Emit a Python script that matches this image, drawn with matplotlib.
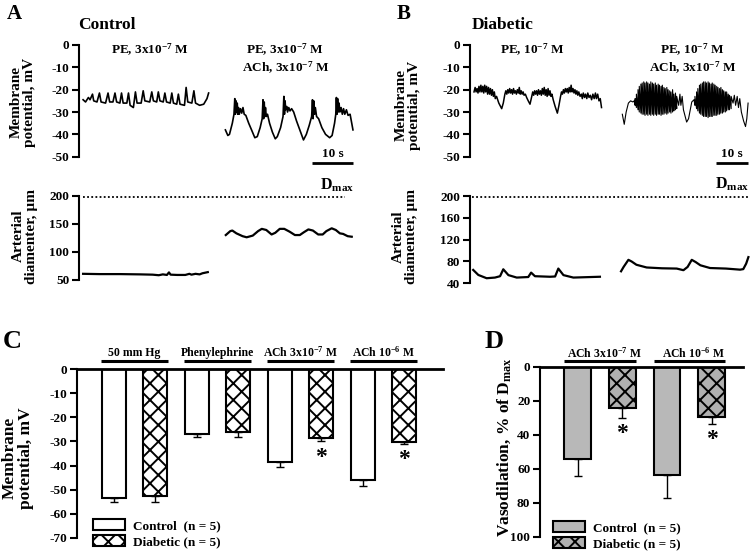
import matplotlib.pyplot as plt

plt.rcParams['font.family'] = ['Liberation Serif', 'DejaVu Serif']
plt.rcParams['font.weight'] = 'bold'
plt.rcParams['axes.labelweight'] = 'bold'
plt.rcParams['mathtext.fontset'] = 'custom'
plt.rcParams['mathtext.rm'] = 'Liberation Serif:bold'
plt.rcParams['mathtext.it'] = 'Liberation Serif:bold:italic'
plt.rcParams['mathtext.bf'] = 'Liberation Serif:bold'
plt.rcParams['mathtext.default'] = 'rm'
plt.rcParams['hatch.linewidth'] = 1.4
plt.rcParams['axes.unicode_minus'] = False

# ── A: Control traces (time in s) ─────────────────────────────────────
a_pe_t = [1.0, 1.6, 2.3, 2.7, 3.3, 3.6, 4.4, 5.0, 5.4, 6.5, 7.1, 7.5, 8.3, 8.8, 9.2,
          10.0, 10.4, 10.8, 11.7, 12.1, 12.5, 13.3, 13.8, 14.2, 15.2, 15.7, 16.1,
          17.3, 17.8, 18.2, 19.0, 19.4, 19.8, 20.6, 21.0, 21.4, 22.3, 22.7, 23.1,
          23.9, 24.3, 24.7, 25.8, 26.2, 26.6, 27.6, 28.1, 28.5, 29.5, 30.5, 31.3, 31.7]
a_pe_mv = [-24.5, -25.5, -23.5, -24.5, -22, -25, -25.5, -21.5, -25.5, -26, -21.5, -25.5,
           -25.5, -21.5, -25.5, -26, -21.5, -26, -26, -21.5, -27, -28, -21, -26, -26,
           -20.5, -25, -25.5, -21, -25, -25.5, -21, -25, -25.5, -21.5, -25.5, -26,
           -21.5, -26, -26.5, -22, -26.5, -27, -19, -25.5, -26, -20.5, -26, -27, -26.5,
           -24, -21.5]

a_ach_t = [35.8, 36.4, 36.8, 37.5, 37.9, 38.1, 38.25, 38.4, 38.55, 38.7, 38.85, 39.0, 39.2,
           39.5, 39.8, 40.1, 40.4, 40.8, 41.5, 42.2, 43.0, 43.6, 44.3, 44.8, 45.0, 45.15,
           45.3, 45.45, 45.6, 45.8, 46.1, 46.6, 47.3, 48.0, 48.5, 49.3, 49.9, 50.1, 50.25,
           50.4, 50.55, 50.8, 51.0, 51.3, 51.6, 52.0, 52.5, 53.2, 54.0, 54.9, 55.6, 56.3,
           56.9, 57.1, 57.25, 57.4, 57.6, 57.8, 58.1, 58.6, 59.4, 60.3, 61.3, 61.9, 62.5,
           62.8, 62.95, 63.1, 63.25, 63.4, 63.6, 63.8, 64.1, 64.4, 64.7, 65.0, 65.4, 65.8,
           66.3, 66.7, 67.0]
a_ach_mv = [-38, -40.5, -40, -35, -31, -24, -31, -25, -30, -26, -31, -28, -31, -28.5, -30.5,
            -28, -31, -31.5, -35, -38, -41.5, -41, -37, -33, -24.5, -33, -25.5, -32, -28,
            -32, -31, -35, -39, -42, -41, -37, -32, -23, -31, -25, -29, -27.5, -30, -28,
            -29.5, -28.5, -30, -34, -38, -42.5, -40, -36, -32, -24.5, -33, -25, -31, -28,
            -32, -33, -37, -40, -41.5, -40.5, -35, -31, -23.5, -31, -24, -30, -26, -30,
            -28, -31, -28.5, -31, -29, -31.5, -31, -35, -38]

a_pe_dt = [1.0, 5.0, 10.0, 15.0, 18.0, 19.5, 20.5, 21.5, 22.0, 22.4, 24.0, 26.0, 27.0,
           27.5, 28.5, 29.5, 30.2, 31.5]
a_pe_um = [61, 60.5, 60.5, 60, 59.5, 58.5, 60, 59, 63.5, 59.5, 59, 59, 61, 59.5, 61, 60,
           62, 64]
a_ach_dt = [35.9, 37.0, 37.5, 38.5, 40.0, 41.0, 42.5, 43.8, 44.7, 45.8, 47.1, 48.0, 49.1,
            50.2, 51.5, 52.8, 54.0, 55.0, 56.1, 57.2, 58.5, 59.6, 60.5, 61.8, 62.8, 63.8,
            64.6, 65.7, 66.7]
a_ach_um = [130, 137, 138, 133, 128, 126, 129, 137, 141, 139, 131, 134, 141, 141, 136, 130,
            130, 135, 140, 138, 131, 131, 137, 142, 139, 133, 132, 128, 127]

# ── B: Diabetic traces ────────────────────────────────────────────────
b_pe_t = [1.25, 1.6, 1.9, 2.2, 2.5, 2.8, 3.1, 3.4, 3.7, 4.0, 4.3, 4.6, 4.9, 5.2, 5.5, 5.8,
          6.1, 6.4, 6.7, 7.0, 7.3, 7.6, 7.9, 8.3, 9.0, 9.9, 10.4, 10.9, 11.2, 11.5, 11.8,
          12.1, 12.4, 12.7, 13.0, 13.3, 13.6, 13.9, 14.2, 14.5, 14.8, 15.1, 15.4, 15.7,
          16.0, 16.3, 16.6, 16.9, 17.3, 17.7, 18.2, 18.75, 19.3, 19.6, 19.9, 20.2, 20.5,
          20.8, 21.1, 21.4, 21.7, 22.0, 22.3, 22.6, 22.9, 23.2, 23.5, 23.8, 24.1, 24.4,
          24.7, 25.0, 25.3, 25.6, 26.0, 26.6, 27.3, 27.8, 28.3, 28.6, 28.9, 29.2, 29.5,
          29.8, 30.1, 30.4, 30.7, 31.0, 31.3, 31.6, 31.9, 32.2, 32.5, 32.8, 33.1, 33.4,
          33.7, 34.0, 34.4, 34.8, 35.1, 35.4, 35.8, 36.1, 36.5, 36.8, 37.2, 37.6, 38.0,
          38.4, 38.8, 39.2, 39.5, 39.9, 40.3, 40.7, 41.1]
b_pe_mv = [-21, -19, -21, -19.5, -21.5, -18.5, -21, -18, -21, -18.5, -21.5, -18, -21, -18.5,
           -22, -19, -22, -19.5, -22.5, -20, -23, -21, -24, -23, -26, -28.5, -26, -22,
           -20.5, -22, -20, -21.5, -19.5, -21.5, -20, -22, -19.5, -21.5, -20.5, -22, -20,
           -21.5, -19, -22, -20.5, -22, -21, -22.5, -22, -23.5, -25, -26.5, -23, -21,
           -22.5, -20.5, -22, -20.5, -22.5, -20, -22, -20.5, -22.5, -19.5, -22, -19, -22.5,
           -20, -23, -19.5, -22.5, -20.5, -23, -22, -24.5, -27.5, -30.5, -27, -23, -21,
           -22, -20, -21.5, -19.5, -21, -19.5, -21.5, -19, -21, -18, -21, -19.5, -21.5,
           -20, -22, -20.5, -22.5, -21, -23, -22, -24, -21.5, -23.5, -22, -24, -21.5,
           -23.5, -22.5, -24.5, -22, -24, -21.5, -24, -22, -25, -24, -28]

# ACh: slow segments plus two bursts (spike time, peak, trough)
b_ach_start_t = [47.6, 48.2, 48.8, 49.5, 50.2, 50.9, 51.3]
b_ach_start_mv = [-31, -35.5, -30, -26, -25, -25.5, -25]
b_burst1_t = [51.6, 52.0, 52.5, 52.9, 53.4, 53.8, 54.3, 54.7, 55.2, 55.6, 56.1, 56.5, 57.0,
              57.4, 57.9, 58.3, 58.8, 59.2, 59.7, 60.1, 60.6, 61.0, 61.5, 61.9, 62.4, 62.8,
              63.3, 63.7, 64.2, 64.6]
b_burst1_peak = [-24, -22, -20, -18.5, -17.5, -17, -16.5, -17, -16.5, -17, -17.5, -16.5, -17,
                 -17.5, -17, -18, -17.5, -18, -18.5, -18, -19, -19.5, -19, -20, -20.5, -21,
                 -20, -22, -21.5, -23]
b_burst1_trough = [-27, -28, -29, -30, -30.5, -31, -31, -31.5, -31, -31.5, -31, -31.5, -31,
                   -31.5, -31, -31.5, -31, -31, -31.5, -31, -31, -30.5, -31, -30.5, -30,
                   -30.5, -30, -29.5, -29, -28.5]
b_ach_mid_t = [65.2, 65.6, 65.9, 66.3, 66.7, 67.7, 68.3, 69.3, 70.0]
b_ach_mid_mv = [-27, -22, -27, -23, -29, -34.5, -33, -25.5, -24.5]
b_burst2_t = [70.3, 70.8, 71.2, 71.7, 72.1, 72.6, 73.0, 73.5, 73.9, 74.4, 74.8, 75.3, 75.7,
              76.2, 76.6, 77.1, 77.5, 78.0, 78.4, 78.9, 79.3, 79.8, 80.2, 80.7, 81.1, 81.6]
b_burst2_peak = [-23, -21, -19.5, -18, -17.5, -17, -16.5, -16.5, -17, -16.5, -17, -17.5, -17,
                 -17.5, -18, -18.5, -19, -19.5, -19, -20, -20.5, -21, -21, -22, -22.5, -23]
b_burst2_trough = [-27, -28.5, -29.5, -30.5, -31, -31.5, -32, -32, -32, -32.5, -32, -32, -32,
                   -31.5, -31.5, -31.5, -31, -31, -30.5, -30.5, -30, -30, -29.5, -29, -29,
                   -28.5]
b_ach_end_t = [82.2, 82.6, 83.0, 83.5, 83.9, 84.3, 84.8, 85.5, 86.1, 86.5, 86.9]
b_ach_end_mv = [-26, -22.5, -27, -23, -28, -24, -30, -34, -36.5, -33, -26]

b_pe_dt = [1.0, 2.6, 5.2, 7.8, 9.4, 10.4, 12.0, 14.6, 18.2, 19.1, 20.3, 25.0, 26.6, 27.6,
           29.2, 32.3, 40.6]
b_pe_um = [64.5, 55.3, 49.3, 50.5, 53, 65.7, 55, 50.5, 51.5, 59.6, 53, 52, 52.5, 67, 55,
           50.5, 52]
b_ach_dt = [47.2, 48.0, 49.5, 50.5, 52.0, 55.2, 60.0, 64.6, 66.7, 68.0, 69.3, 70.5, 72.0,
            75.0, 80.0, 84.4, 85.4, 86.3, 87.0]
b_ach_um = [62, 70, 83, 80, 74, 69, 67.5, 67, 64, 70, 83, 79, 73, 68, 67, 65, 66, 76, 88]

# ── C: membrane potential summary ─────────────────────────────────────
c_groups = ['50 mm Hg', 'Phenylephrine', 'ACh 3x10$^{-7}$ M', 'ACh 10$^{-6}$ M']
c_control = [-53.5, -26.8, -38.6, -46.0]
c_control_err = [1.7, 1.2, 2.1, 2.4]
c_diabetic = [-52.7, -26.3, -28.5, -30.2]
c_diabetic_err = [2.5, 1.7, 1.5, 0.8]
c_signif = [False, False, True, True]

# ── D: vasodilation summary ───────────────────────────────────────────
d_groups = ['ACh 3x10$^{-7}$ M', 'ACh 10$^{-6}$ M']
d_control = [54.3, 63.5]
d_control_err = [9.8, 13.7]
d_diabetic = [24.5, 29.4]
d_diabetic_err = [5.9, 4.4]
d_signif = [True, True]

W, H = 750, 551
fig = plt.figure(figsize=(W / 100, H / 100), dpi=100)
TICK_FS = 9.5


def px_axes(x0, y0, x1, y1):
    return fig.add_axes([x0 / W, 1 - y1 / H, (x1 - x0) / W, (y1 - y0) / H])


def px_text(x, y, s, **kw):
    kw.setdefault('fontweight', 'bold')
    return fig.text(x / W, 1 - y / H, s, **kw)


def style_left(ax, top=False):
    for side in ['right', 'bottom']:
        ax.spines[side].set_visible(False)
    ax.spines['top'].set_visible(top)
    ax.spines['left'].set_linewidth(1.5)
    ax.spines['top'].set_linewidth(2)
    ax.tick_params(axis='y', direction='out', length=5, width=1.5, labelsize=TICK_FS, pad=2)
    ax.tick_params(axis='x', bottom=False, labelbottom=False)
    ax.patch.set_alpha(0)


def burst_line(t, peak, trough):
    xs, ys = [], []
    for ti, p, tr in zip(t, peak, trough):
        xs += [ti, ti]
        ys += [tr, p]
    return xs, ys


# ── Panel A ──────────────────────────────────────────────────────────
ax_a1 = px_axes(79, 45, 355, 156.7)
ax_a1.plot(a_pe_t, a_pe_mv, color='black', lw=1.2)
ax_a1.plot(a_ach_t, a_ach_mv, color='black', lw=1.2)
ax_a1.set_xlim(0, 67.5)
ax_a1.set_ylim(-50, 0)
ax_a1.set_yticks([0, -10, -20, -30, -40, -50])
style_left(ax_a1)
ax_a1.plot([57, 67], [-53, -53], color='black', lw=2, clip_on=False, solid_capstyle='butt')
ax_a1.text(62, -51.5, '10 s', ha='center', va='bottom', fontsize=9.5)

ax_a2 = px_axes(79, 195.7, 355, 280)
ax_a2.plot(a_pe_dt, a_pe_um, color='black', lw=1.6)
ax_a2.plot(a_ach_dt, a_ach_um, color='black', lw=1.6)
ax_a2.plot([1, 65], [197, 197], color='black', lw=1.3, ls=(0, (1, 1.3)), clip_on=False)
ax_a2.text(58.9, 203, r'D$_{\mathrm{max}}$', ha='left', va='bottom', fontsize=11.5,
           clip_on=False)
ax_a2.set_xlim(0, 67.5)
ax_a2.set_ylim(50, 200)
ax_a2.set_yticks([50, 100, 150, 200])
style_left(ax_a2)

# ── Panel B ──────────────────────────────────────────────────────────
ax_b1 = px_axes(470, 45, 750, 156.7)
ax_b1.plot(b_pe_t, b_pe_mv, color='black', lw=1.1)
b1x, b1y = burst_line(b_burst1_t, b_burst1_peak, b_burst1_trough)
b2x, b2y = burst_line(b_burst2_t, b_burst2_peak, b_burst2_trough)
ax_b1.plot(b_ach_start_t + b1x + b_ach_mid_t + b2x + b_ach_end_t,
           b_ach_start_mv + b1y + b_ach_mid_mv + b2y + b_ach_end_mv,
           color='black', lw=0.8, clip_on=False)
ax_b1.set_xlim(0, 87.5)
ax_b1.set_ylim(-50, 0)
ax_b1.set_yticks([0, -10, -20, -30, -40, -50])
style_left(ax_b1)
ax_b1.plot([76.9, 86.9], [-53, -53], color='black', lw=2, clip_on=False, solid_capstyle='butt')
ax_b1.text(81.9, -51.5, '10 s', ha='center', va='bottom', fontsize=9.5)

ax_b2 = px_axes(470, 196, 750, 283.3)
ax_b2.plot(b_pe_dt, b_pe_um, color='black', lw=1.6)
ax_b2.plot(b_ach_dt, b_ach_um, color='black', lw=1.6, clip_on=False)
ax_b2.plot([0.6, 87], [198, 198], color='black', lw=1.3, ls=(0, (1, 1.3)), clip_on=False)
ax_b2.text(76.6, 206, r'D$_{\mathrm{max}}$', ha='left', va='bottom', fontsize=11.5,
           clip_on=False)
ax_b2.set_xlim(0, 87.5)
ax_b2.set_ylim(40, 200)
ax_b2.set_yticks([40, 80, 120, 160, 200])
style_left(ax_b2)

# texts A/B
px_text(7, 14, 'A', fontsize=15, va='center', ha='left')
px_text(78, 25, 'Control', fontsize=12.5, va='center', ha='left')
px_text(150, 50, 'PE, 3x10$^{-7}$ M', fontsize=9.5, ha='center', va='center')
px_text(285, 50, 'PE, 3x10$^{-7}$ M', fontsize=9.5, ha='center', va='center')
px_text(286, 68, 'ACh, 3x10$^{-7}$ M', fontsize=9.5, ha='center', va='center')
px_text(23, 102, 'Membrane\npotential, mV', fontsize=11, rotation=90, ha='center',
        va='center', multialignment='center', linespacing=1.0)
px_text(25, 236, 'Arterial\ndiamenter, µm', fontsize=11, rotation=90, ha='center',
        va='center', multialignment='center', linespacing=1.0)

px_text(397, 14, 'B', fontsize=15, va='center', ha='left')
px_text(472, 25, 'Diabetic', fontsize=12.5, va='center', ha='left')
px_text(532, 50, 'PE, 10$^{-7}$ M', fontsize=9.5, ha='center', va='center')
px_text(692, 50, 'PE, 10$^{-7}$ M', fontsize=9.5, ha='center', va='center')
px_text(693, 68, 'ACh, 3x10$^{-7}$ M', fontsize=9.5, ha='center', va='center')
px_text(408, 105, 'Membrane\npotential, mV', fontsize=11, rotation=90, ha='center',
        va='center', multialignment='center', linespacing=1.0)
px_text(405, 237, 'Arterial\ndiamenter, µm', fontsize=11, rotation=90, ha='center',
        va='center', multialignment='center', linespacing=1.0)

# ── Panel C ──────────────────────────────────────────────────────────
ax_c = px_axes(77, 369, 443, 538)
xc = [2 * i for i in range(len(c_groups))]
xd = [2 * i + 1 for i in range(len(c_groups))]
ax_c.bar(xc, c_control, width=0.58, color='white', edgecolor='black', linewidth=1.5,
         yerr=[c_control_err, [0] * 4], error_kw=dict(capsize=3, elinewidth=1, capthick=1),
         label='Control  (n = 5)')
ax_c.bar(xd, c_diabetic, width=0.58, color='white', edgecolor='black', linewidth=1.5,
         hatch='xx', yerr=[c_diabetic_err, [0] * 4],
         error_kw=dict(capsize=3, elinewidth=1, capthick=1), label='Diabetic (n = 5)')
for i, g in enumerate(c_groups):
    ax_c.plot([xc[i] - 0.3, xd[i] + 0.3], [3.3, 3.3], color='black', lw=2.2, clip_on=False,
              solid_capstyle='butt')
    ax_c.text((xc[i] + xd[i]) / 2, 6.8, g, ha='center', va='center', fontsize=8.5)
    if c_signif[i]:
        ax_c.text(xd[i], c_diabetic[i] - c_diabetic_err[i] - 6.5, '*', ha='center',
                  va='center', fontsize=17)
ax_c.set_xlim(-0.89, 7.93)
ax_c.set_ylim(-70, 0)
ax_c.set_yticks(range(0, -71, -10))
style_left(ax_c, top=True)
ax_c.legend(loc='lower left', bbox_to_anchor=(0.044, -0.06), frameon=False, fontsize=9.5,
            handlelength=2.4, handleheight=0.85, labelspacing=0.25, handletextpad=0.6,
            borderpad=0, borderaxespad=0)
px_text(3, 341, 'C', fontsize=19, va='center', ha='left')
px_text(18, 458, 'Membrane\npotential, mV', fontsize=12.5, rotation=90, ha='center',
        va='center', multialignment='center', linespacing=1.0)

# ── Panel D ──────────────────────────────────────────────────────────
ax_d = px_axes(540, 366.7, 743, 536.7)
xc2 = [2 * i for i in range(len(d_groups))]
xd2 = [2 * i + 1 for i in range(len(d_groups))]
ax_d.bar(xc2, d_control, width=0.6, color='#b8b8b8', edgecolor='black', linewidth=1.5,
         yerr=[[0] * 2, d_control_err], error_kw=dict(capsize=3, elinewidth=1, capthick=1),
         label='Control  (n = 5)')
ax_d.bar(xd2, d_diabetic, width=0.6, color='#b0b0b0', edgecolor='black', linewidth=1.5,
         hatch='xx', yerr=[[0] * 2, d_diabetic_err],
         error_kw=dict(capsize=3, elinewidth=1, capthick=1), label='Diabetic (n = 5)')
for i, g in enumerate(d_groups):
    ax_d.plot([xc2[i] - 0.3, xd2[i] + 0.3], [-3.35, -3.35], color='black', lw=2.2,
              clip_on=False, solid_capstyle='butt')
    ax_d.text((xc2[i] + xd2[i]) / 2 + 0.1, -7.9, g, ha='center', va='center', fontsize=8.5)
    if d_signif[i]:
        ax_d.text(xd2[i], d_diabetic[i] + d_diabetic_err[i] + 9, '*', ha='center',
                  va='center', fontsize=17)
ax_d.set_xlim(-0.84, 3.7)
ax_d.set_ylim(100, 0)
ax_d.set_yticks(range(0, 101, 20))
style_left(ax_d, top=True)
ax_d.legend(loc='lower left', bbox_to_anchor=(0.064, -0.078), frameon=False, fontsize=9.5,
            handlelength=2.4, handleheight=0.85, labelspacing=0.25, handletextpad=0.6,
            borderpad=0, borderaxespad=0)
px_text(485, 341, 'D', fontsize=19, va='center', ha='left')
px_text(504, 447, r'Vasodilation, % of D$_{\mathrm{max}}$', fontsize=12.5, rotation=90,
        ha='center', va='center')

fig.savefig('out.png', dpi=100)
